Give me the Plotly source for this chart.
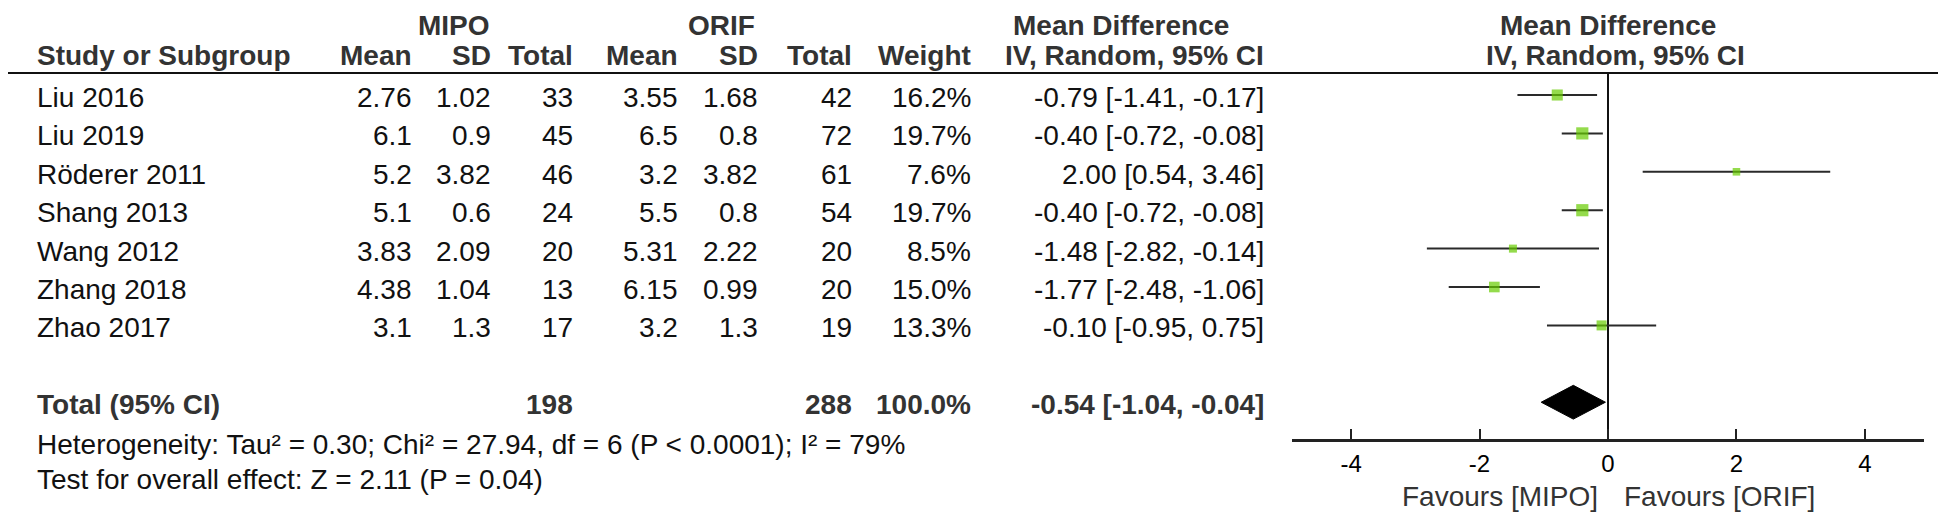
import math
import plotly.graph_objects as go

W, H = 1946, 514

# study level data
studies = ["Liu 2016", "Liu 2019", "Röderer 2011", "Shang 2013", "Wang 2012", "Zhang 2018", "Zhao 2017"]
mipo_mean = [2.76, 6.1, 5.2, 5.1, 3.83, 4.38, 3.1]
mipo_sd = [1.02, 0.9, 3.82, 0.6, 2.09, 1.04, 1.3]
mipo_n = [33, 45, 46, 24, 20, 13, 17]
orif_mean = [3.55, 6.5, 3.2, 5.5, 5.31, 6.15, 3.2]
orif_sd = [1.68, 0.8, 3.82, 0.8, 2.22, 0.99, 1.3]
orif_n = [42, 72, 61, 54, 20, 20, 19]
weight = [16.2, 19.7, 7.6, 19.7, 8.5, 15.0, 13.3]
md = [-0.79, -0.40, 2.00, -0.40, -1.48, -1.77, -0.10]
ci_lo = [-1.41, -0.72, 0.54, -0.72, -2.82, -2.48, -0.95]
ci_hi = [-0.17, -0.08, 3.46, -0.08, -0.14, -1.06, 0.75]

# pooled result
total_md, total_lo, total_hi = -0.54, -1.04, -0.04
total_weight = 100.0
heterogeneity = "Heterogeneity: Tau² = 0.30; Chi² = 27.94, df = 6 (P < 0.0001); I² = 79%"
overall_effect = "Test for overall effect: Z = 2.11 (P = 0.04)"

x_ticks = [-4, -2, 0, 2, 4]
favours_left = "Favours [MIPO]"
favours_right = "Favours [ORIF]"

FONT = "Arial, 'Liberation Sans', sans-serif"
FS = 28
BODY = "#111111"
HEAD = "#333333"
GREEN = "#66cc00"
DY = 6  # annotations sit a bit low, lift them

rows = list(range(len(studies)))
total_row = len(studies) + 1


def px(x):
    return x / W


def py(y):
    return 1 - (y - DY) / H


fig = go.Figure()

# confidence interval whiskers
cx, cy = [], []
for r, lo, hi in zip(rows, ci_lo, ci_hi):
    cx += [lo, hi, None]
    cy += [r, r, None]
fig.add_trace(go.Scatter(x=cx, y=cy, mode="lines", line=dict(color="#2a2a2a", width=2),
                         hoverinfo="skip", showlegend=False))

# weight squares
fig.add_trace(go.Scatter(
    x=md, y=rows, mode="markers",
    marker=dict(symbol="square", size=[2.75 * math.sqrt(w) for w in weight], color=GREEN,
                line=dict(width=0)),
    showlegend=False))

# pooled diamond
h = 0.44
fig.add_trace(go.Scatter(
    x=[total_lo, total_md, total_hi, total_md, total_lo],
    y=[total_row, total_row - h, total_row, total_row + h, total_row],
    mode="lines", fill="toself", fillcolor="black", line=dict(color="black", width=1),
    showlegend=False))

ann = []
ROW_SHIFT = -8.5 + DY


def txt(text, x, y, anchor="right", bold=False, color=BODY, yref="paper", yshift=0,
        size=FS, xref="paper", xshift=0, yanchor="middle"):
    if bold:
        text = "<b>" + text + "</b>"
    ann.append(dict(text=text, x=x, y=y, xref=xref, yref=yref, xanchor=anchor, yanchor=yanchor,
                    showarrow=False, yshift=yshift, xshift=xshift,
                    font=dict(family=FONT, size=size, color=color)))


# column right edges in pixels
col_mm, col_msd, col_mn, col_om, col_osd, col_on, col_w, col_ci = 406, 485, 567, 672, 752, 846, 965, 1258

# header rows (top one pinned to the page edge)
txt("MIPO", px(446), 1, "center", True, HEAD, yanchor="top")
txt("ORIF", px(713), 1, "center", True, HEAD, yanchor="top")
txt("Mean Difference", px(1113), 1, "center", True, HEAD, yanchor="top")
txt("Mean Difference", 0, 1, "center", True, HEAD, xref="x", yanchor="top")
txt("Study or Subgroup", px(27), py(53), "left", True, HEAD)
for label, c in [("Mean", col_mm), ("SD", col_msd), ("Total", col_mn), ("Mean", col_om),
                 ("SD", col_osd), ("Total", col_on), ("Weight", col_w), ("IV, Random, 95% CI", col_ci)]:
    txt(label, px(c), py(53), "right", True, HEAD)
txt("IV, Random, 95% CI", 0, py(53), "center", True, HEAD, xref="x", xshift=7)

# study rows
for r, s in enumerate(studies):
    vals = [(f"{mipo_mean[r]:g}", col_mm), (f"{mipo_sd[r]:g}", col_msd), (str(mipo_n[r]), col_mn),
            (f"{orif_mean[r]:g}", col_om), (f"{orif_sd[r]:g}", col_osd), (str(orif_n[r]), col_on),
            (f"{weight[r]:.1f}%", col_w), (f"{md[r]:.2f} [{ci_lo[r]:.2f}, {ci_hi[r]:.2f}]", col_ci)]
    txt(s, px(27), r, "left", yref="y", yshift=ROW_SHIFT)
    for v, c in vals:
        txt(v, px(c), r, "right", yref="y", yshift=ROW_SHIFT)

# total row
txt("Total (95% CI)", px(27), total_row, "left", True, HEAD, yref="y", yshift=ROW_SHIFT)
txt(str(sum(mipo_n)), px(col_mn), total_row, "right", True, HEAD, yref="y", yshift=ROW_SHIFT)
txt(str(sum(orif_n)), px(col_on), total_row, "right", True, HEAD, yref="y", yshift=ROW_SHIFT)
txt(f"{total_weight:.1f}%", px(col_w), total_row, "right", True, HEAD, yref="y", yshift=ROW_SHIFT)
txt(f"{total_md:.2f} [{total_lo:.2f}, {total_hi:.2f}]", px(col_ci), total_row, "right", True, HEAD,
    yref="y", yshift=ROW_SHIFT)

txt(heterogeneity, px(27), py(442), "left")
txt(overall_effect, px(27), py(477), "left")

# favours labels under the axis
txt(favours_left, 0, py(494), "right", color=HEAD, xref="x", xshift=-8)
txt(favours_right, 0, py(494), "left", color=HEAD, xref="x", xshift=14)

fig.update_layout(
    width=W, height=H, margin=dict(l=0, r=0, t=0, b=0),
    paper_bgcolor="white", plot_bgcolor="white",
    annotations=ann,
    shapes=[dict(type="line", xref="paper", yref="paper", x0=0, x1=px(1940), y0=1 - 65 / H, y1=1 - 65 / H,
                 line=dict(color="#111111", width=2))],
    xaxis=dict(domain=[px(1284), px(1916)], range=[-4.92, 4.92], tickvals=x_ticks,
               ticktext=[str(t) for t in x_ticks], ticks="inside", ticklen=10, tickwidth=2,
               tickcolor="#222222", showline=True, linecolor="#222222", linewidth=2.5,
               showgrid=False, zeroline=True, zerolinecolor="#111111", zerolinewidth=2,
               tickfont=dict(family=FONT, size=24, color="black"), ticklabelstandoff=1,
               fixedrange=True),
    yaxis=dict(domain=[1 - 431 / H, 1 - 65 / H], range=[8.958, -0.573], visible=False,
               showgrid=False, zeroline=False, fixedrange=True),
    showlegend=False,
)

fig.write_html("out.html")
